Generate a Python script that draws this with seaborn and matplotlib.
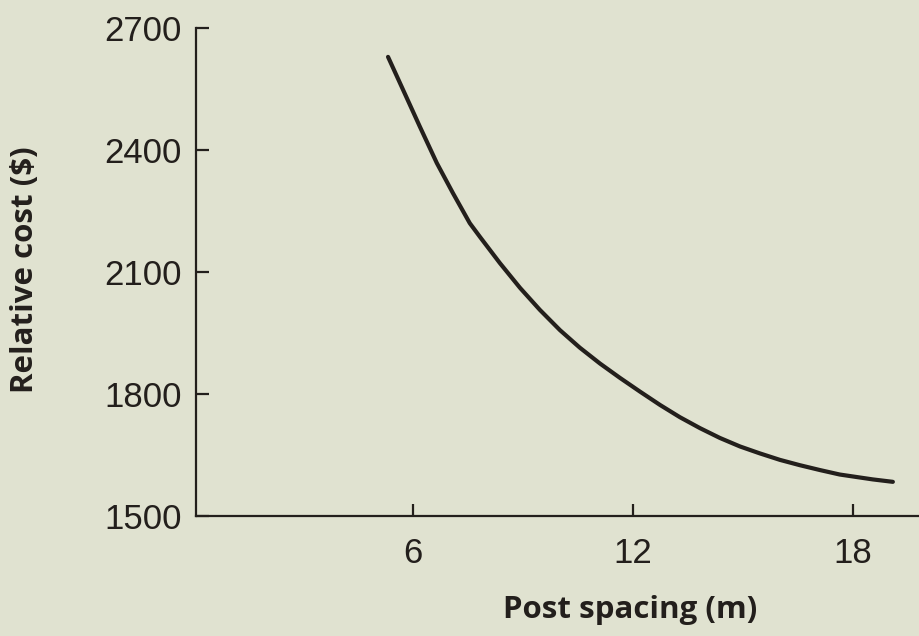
import matplotlib
matplotlib.use("Agg")
import matplotlib.pyplot as plt
import seaborn as sns
import pandas as pd

# values
spacing = [5.32, 5.73, 6.19, 6.65, 7.09, 7.55, 7.83, 8.37, 8.92, 9.46, 10.01,
           10.55, 11.10, 11.64, 12.19, 12.74, 13.28, 13.83, 14.37, 14.92,
           15.46, 16.01, 16.55, 17.10, 17.64, 18.54, 19.09]
cost = [2629, 2548, 2457, 2368, 2294, 2220, 2186, 2122, 2061, 2007, 1957,
        1914, 1875, 1840, 1806, 1773, 1743, 1716, 1692, 1671, 1654, 1638,
        1625, 1613, 1602, 1590, 1584]
x_ticks = [6, 12, 18]
y_ticks = [1500, 1800, 2100, 2400, 2700]

bg = "#e0e2d0"
ink = "#231f1c"

sns.set_theme(style="ticks")
plt.rcParams["font.family"] = ["Liberation Sans", "DejaVu Sans"]

df = pd.DataFrame({"spacing": spacing, "cost": cost})

fig = plt.figure(figsize=(9.2, 6.36), dpi=100, facecolor=bg)
ax = fig.add_axes([196 / 920, 1 - 516 / 636, 1 - 196 / 920, (516 - 28) / 636])
ax.set_facecolor(bg)

sns.lineplot(data=df, x="spacing", y="cost", ax=ax, color=ink, linewidth=3,
             solid_capstyle="round", solid_joinstyle="round")

ax.set_xlim(0.082, 19.83)
ax.set_ylim(1500, 2700)
ax.set_xticks(x_ticks)
ax.set_yticks(y_ticks)

for side in ["top", "right"]:
    ax.spines[side].set_visible(False)
for side in ["left", "bottom"]:
    ax.spines[side].set_color(ink)
    ax.spines[side].set_linewidth(1.6)

ax.tick_params(axis="both", direction="in", length=9, width=1.6, color=ink,
               labelcolor=ink, labelsize=25)
ax.tick_params(axis="x", pad=15)
ax.tick_params(axis="y", pad=10)

ax.set_xlabel("")
ax.set_ylabel("")
fig.text(630 / 920, 1 - 610 / 636, "Post spacing (m)", ha="center", va="center",
         fontsize=22.5, fontweight="bold", color=ink,
         family=["Open Sans", "DejaVu Sans"])
fig.text(25 / 920, 1 - 270 / 636, "Relative cost ($)", ha="center", va="center",
         rotation=90, fontsize=22.5, fontweight="bold", color=ink,
         family=["Open Sans", "DejaVu Sans"])

fig.savefig("out.png", dpi=100, facecolor=bg)
